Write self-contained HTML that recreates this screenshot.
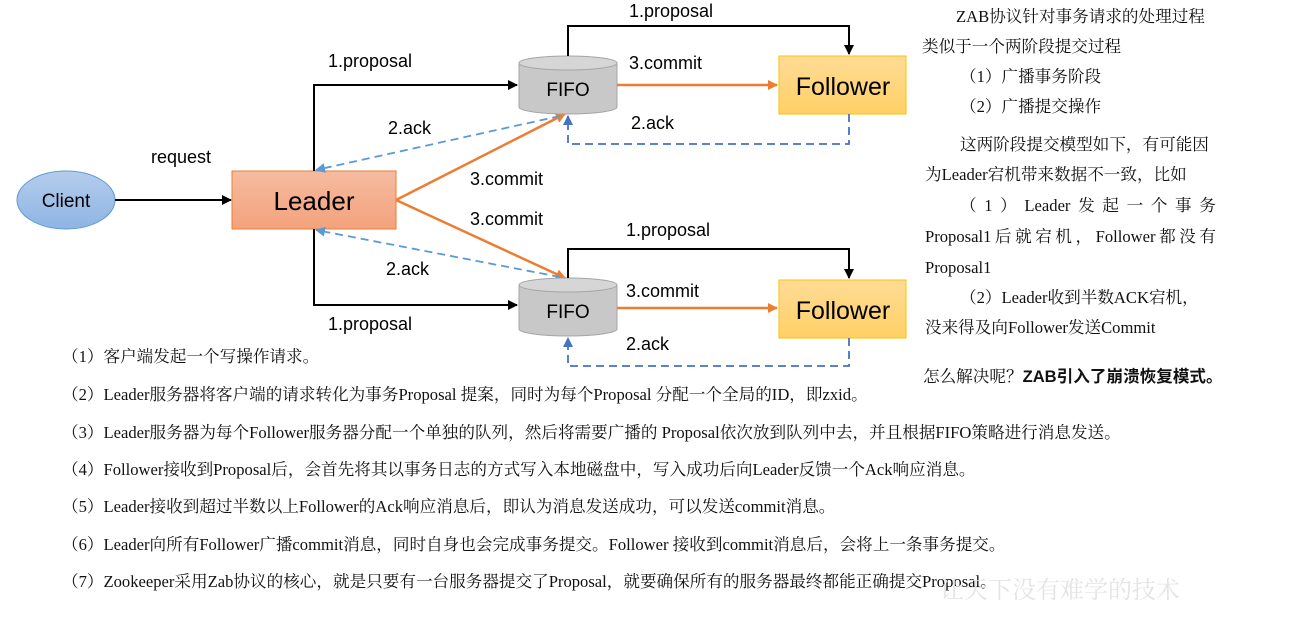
<!DOCTYPE html>
<html><head><meta charset="utf-8"><style>
body{margin:0;width:1301px;height:629px;background:#fff;position:relative;overflow:hidden}
.t{position:absolute;font-family:"Liberation Serif","Noto Serif CJK SC",serif;font-size:16.6px;color:#111;white-space:nowrap;line-height:20px}
.j{display:flex;justify-content:space-between}
svg{position:absolute;left:0;top:0}
</style></head><body>
<svg width="1301" height="629" font-family="Liberation Sans, sans-serif">
<defs>
<marker id="ab" markerWidth="10" markerHeight="10" refX="9" refY="5" orient="auto" markerUnits="userSpaceOnUse"><path d="M0,0 L10,5 L0,10 z" fill="#000"/></marker>
<marker id="ao" markerWidth="10" markerHeight="10" refX="9" refY="5" orient="auto" markerUnits="userSpaceOnUse"><path d="M0,0 L10,5 L0,10 z" fill="#ed7d31"/></marker>
<marker id="au" markerWidth="10" markerHeight="10" refX="9" refY="5" orient="auto" markerUnits="userSpaceOnUse"><path d="M0,0 L10,5 L0,10 z" fill="#5b9bd5"/></marker>
<marker id="ad" markerWidth="10" markerHeight="10" refX="9" refY="5" orient="auto" markerUnits="userSpaceOnUse"><path d="M0,0 L10,5 L0,10 z" fill="#4472c4"/></marker>
<linearGradient id="gc" x1="0" y1="0" x2="0" y2="1"><stop offset="0" stop-color="#b4cdec"/><stop offset="1" stop-color="#8fb4e3"/></linearGradient>
<linearGradient id="gl" x1="0" y1="0" x2="0" y2="1"><stop offset="0" stop-color="#f6bba0"/><stop offset="1" stop-color="#f3a27c"/></linearGradient>
<linearGradient id="gf" x1="0" y1="0" x2="0" y2="1"><stop offset="0" stop-color="#ffdc96"/><stop offset="1" stop-color="#ffd065"/></linearGradient>
</defs>
<ellipse cx="66" cy="200" rx="49" ry="29" fill="url(#gc)" stroke="#5b9bd5"/>
<text x="66" y="207" font-size="19" text-anchor="middle">Client</text>
<line x1="115" y1="200" x2="231" y2="200" stroke="#000" stroke-width="2" marker-end="url(#ab)"/>
<text x="151" y="163" font-size="18">request</text>
<rect x="232" y="171" width="164" height="58" fill="url(#gl)" stroke="#ed7d31"/>
<text x="314" y="210" font-size="26" text-anchor="middle">Leader</text>
<polyline points="314,171 314,85 517,85" fill="none" stroke="#000" stroke-width="2" marker-end="url(#ab)"/>
<polyline points="314,229 314,305 517,305" fill="none" stroke="#000" stroke-width="2" marker-end="url(#ab)"/>
<text x="328" y="67" font-size="18">1.proposal</text>
<text x="328" y="330" font-size="18">1.proposal</text>
<line x1="396" y1="200" x2="565" y2="114" stroke="#ed7d31" stroke-width="2.5" marker-end="url(#ao)"/>
<line x1="396" y1="200" x2="565" y2="278" stroke="#ed7d31" stroke-width="2.5" marker-end="url(#ao)"/>
<text x="470" y="185" font-size="18">3.commit</text>
<text x="470" y="225" font-size="18">3.commit</text>
<line x1="560" y1="116" x2="316" y2="170" stroke="#5b9bd5" stroke-width="1.8" stroke-dasharray="8,5" marker-end="url(#au)"/>
<line x1="560" y1="277" x2="316" y2="230" stroke="#5b9bd5" stroke-width="1.8" stroke-dasharray="8,5" marker-end="url(#au)"/>
<text x="388" y="134" font-size="18">2.ack</text>
<text x="386" y="275" font-size="18">2.ack</text>
<g>
<path d="M519,63 L519,107 A49,7 0 0 0 617,107 L617,63" fill="#c8c8c8" stroke="#a5a5a5"/>
<ellipse cx="568" cy="63" rx="49" ry="7" fill="#d6d6d6" stroke="#a5a5a5"/>
<text x="568" y="96" font-size="19" text-anchor="middle">FIFO</text>
</g>
<g>
<path d="M519,285 L519,329 A49,7 0 0 0 617,329 L617,285" fill="#c8c8c8" stroke="#a5a5a5"/>
<ellipse cx="568" cy="285" rx="49" ry="7" fill="#d6d6d6" stroke="#a5a5a5"/>
<text x="568" y="318" font-size="19" text-anchor="middle">FIFO</text>
</g>
<rect x="779" y="56" width="127" height="58" fill="url(#gf)" stroke="#ffc000"/>
<text x="843" y="95" font-size="25" text-anchor="middle">Follower</text>
<rect x="779" y="280" width="127" height="58" fill="url(#gf)" stroke="#ffc000"/>
<text x="843" y="319" font-size="25" text-anchor="middle">Follower</text>
<polyline points="568,56 568,26 849,26 849,54" fill="none" stroke="#000" stroke-width="2" marker-end="url(#ab)"/>
<polyline points="568,278 568,249 849,249 849,278" fill="none" stroke="#000" stroke-width="2" marker-end="url(#ab)"/>
<line x1="617" y1="85" x2="777" y2="85" stroke="#ed7d31" stroke-width="2.5" marker-end="url(#ao)"/>
<line x1="617" y1="308" x2="777" y2="308" stroke="#ed7d31" stroke-width="2.5" marker-end="url(#ao)"/>
<polyline points="849,114 849,144 568,144 568,116" fill="none" stroke="#4472c4" stroke-width="1.8" stroke-dasharray="8,5" marker-end="url(#ad)"/>
<polyline points="849,338 849,366 568,366 568,338" fill="none" stroke="#4472c4" stroke-width="1.8" stroke-dasharray="8,5" marker-end="url(#ad)"/>
<text x="629" y="17" font-size="18">1.proposal</text>
<text x="629" y="69" font-size="18">3.commit</text>
<text x="631" y="129" font-size="18">2.ack</text>
<text x="626" y="236" font-size="18">1.proposal</text>
<text x="626" y="297" font-size="18">3.commit</text>
<text x="626" y="350" font-size="18">2.ack</text>
</svg>
<div class="t" style="left:956px;top:7px">ZAB协议针对事务请求的处理过程</div>
<div class="t" style="left:922px;top:37px">类似于一个两阶段提交过程</div>
<div class="t" style="left:960px;top:67px">（1）广播事务阶段</div>
<div class="t" style="left:960px;top:97px">（2）广播提交操作</div>
<div class="t" style="left:960px;top:135px">这两阶段提交模型如下，有可能因</div>
<div class="t" style="left:925px;top:165px">为Leader宕机带来数据不一致，比如</div>
<div class="t j" style="left:960px;top:196px;width:256px"><span>（</span><span>1</span><span>）</span><span>Leader</span><span>发</span><span>起</span><span>一</span><span>个</span><span>事</span><span>务</span></div>
<div class="t j" style="left:925px;top:227px;width:291px"><span>Proposal1</span><span>后</span><span>就</span><span>宕</span><span>机</span><span>，</span><span>Follower</span><span>都</span><span>没</span><span>有</span></div>
<div class="t" style="left:925px;top:258px">Proposal1</div>
<div class="t" style="left:960px;top:288px">（2）Leader收到半数ACK宕机，</div>
<div class="t" style="left:925px;top:318px">没来得及向Follower发送Commit</div>
<div class="t" style="left:923px;top:367px">怎么解决呢？<b style="font-family:'Liberation Sans','Noto Sans CJK SC',sans-serif">ZAB引入了崩溃恢复模式。</b></div>
<div class="t" style="left:62px;top:347px">（1）客户端发起一个写操作请求。</div>
<div class="t" style="left:62px;top:385px">（2）Leader服务器将客户端的请求转化为事务Proposal 提案，同时为每个Proposal 分配一个全局的ID，即zxid。</div>
<div class="t" style="left:62px;top:423px">（3）Leader服务器为每个Follower服务器分配一个单独的队列，然后将需要广播的 Proposal依次放到队列中去，并且根据FIFO策略进行消息发送。</div>
<div class="t" style="left:62px;top:460px">（4）Follower接收到Proposal后，会首先将其以事务日志的方式写入本地磁盘中，写入成功后向Leader反馈一个Ack响应消息。</div>
<div class="t" style="left:62px;top:497px">（5）Leader接收到超过半数以上Follower的Ack响应消息后，即认为消息发送成功，可以发送commit消息。</div>
<div class="t" style="left:62px;top:535px">（6）Leader向所有Follower广播commit消息，同时自身也会完成事务提交。Follower 接收到commit消息后，会将上一条事务提交。</div>
<div class="t" style="left:62px;top:572px">（7）Zookeeper采用Zab协议的核心，就是只要有一台服务器提交了Proposal，就要确保所有的服务器最终都能正确提交Proposal。</div>
<div class="t" style="left:940px;top:577px;font-size:24px;color:#e4e4e4;line-height:28px">让天下没有难学的技术</div>
</body></html>
